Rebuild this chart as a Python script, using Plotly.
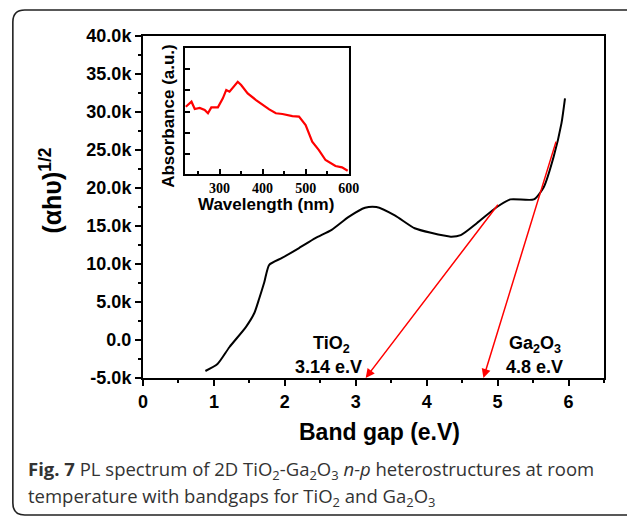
import plotly.graph_objects as go

# ---- main curve: band gap (eV) vs (alpha h nu)^1/2
band_gap = [0.88, 1.05, 1.22, 1.45, 1.57, 1.64, 1.71, 1.78, 1.96, 2.2, 2.43, 2.66, 2.9, 3.13, 3.29,
            3.55, 3.83, 4.06, 4.34, 4.48, 4.71, 4.99, 5.18, 5.51, 5.65, 5.79, 5.9, 5.95]
ahv = [-4080, -3160, -920, 1700, 3550, 5500, 7600, 9900, 10800, 12100, 13400, 14500, 16200, 17400, 17500,
       16400, 14700, 14100, 13600, 13800, 15400, 17500, 18500, 18500, 20100, 24100, 28500, 31800]

# ---- inset: absorbance spectrum
wavelength = [221.5, 234.7, 242.3, 253.8, 265.4, 273.0, 280.8, 296.1, 307.6, 315.5, 323.1, 334.6, 342.2,
              350.1, 365.3, 384.7, 399.9, 415.4, 430.8, 446.1, 469.2, 484.6, 500.0, 515.3, 530.8, 546.2,
              569.3, 584.5, 597.7]
absorbance = [0.534, 0.574, 0.516, 0.524, 0.508, 0.482, 0.529, 0.529, 0.600, 0.667, 0.653, 0.706, 0.732,
              0.706, 0.640, 0.587, 0.548, 0.513, 0.482, 0.476, 0.460, 0.455, 0.389, 0.256, 0.190, 0.111,
              0.063, 0.053, 0.026]

# ---- tangent lines (start point on curve -> intercept on x axis)
tangent_names = ["TiO2", "Ga2O3"]
tangent_start_x = [5.02, 5.83]
tangent_start_y = [18000, 26300]
tangent_intercept = [3.14, 4.8]
baseline_y = -5000

# ---- ticks
y_tickvals = [-5000, 0, 5000, 10000, 15000, 20000, 25000, 30000, 35000, 40000]
y_ticktext = ["-5.0k", "0.0", "5.0k", "10.0k", "15.0k", "20.0k", "25.0k", "30.0k", "35.0k", "40.0k"]
x_tickvals = [0, 1, 2, 3, 4, 5, 6]
inset_x_tickvals = [300, 400, 500, 600]

W, H = 627, 517
L, R, T, B = 143, 607, 36, 378


def px(X):
    return (X - L) / (R - L)


def py(Y):
    return (B - Y) / (B - T)


fig = go.Figure()
fig.add_trace(go.Scatter(x=band_gap, y=ahv, mode="lines",
                         line=dict(color="black", width=2, shape="spline", smoothing=0.6),
                         xaxis="x", yaxis="y", showlegend=False, hoverinfo="skip"))
fig.add_trace(go.Scatter(x=wavelength, y=absorbance, mode="lines",
                         line=dict(color="#ff0000", width=2.2),
                         xaxis="x2", yaxis="y2", showlegend=False, hoverinfo="skip"))

bold = "Liberation Sans"
annotations = []
for sx, sy, ix in zip(tangent_start_x, tangent_start_y, tangent_intercept):
    annotations.append(dict(x=ix, y=baseline_y, ax=sx, ay=sy, xref="x", yref="y", axref="x", ayref="y",
                            showarrow=True, arrowcolor="#ff0000", arrowwidth=1.5, arrowhead=2,
                            arrowsize=1.2, text=""))

labels = [("<b>TiO<sub>2</sub></b>", 2.66, -600), ("<b>3.14 e.V</b>", 2.62, -3500),
          ("<b>Ga<sub>2</sub>O<sub>3</sub></b>", 5.53, -600), ("<b>4.8 e.V</b>", 5.52, -3500)]
for t, x, y in labels:
    annotations.append(dict(x=x, y=y, xref="x", yref="y", text=t, showarrow=False,
                            xanchor="center", yanchor="middle",
                            font=dict(family=bold, size=18, color="black")))


def pann(X, Y, text, size, family=bold, angle=0, xanchor="center", color="black"):
    return dict(x=px(X), y=py(Y), xref="paper", yref="paper", text=text, showarrow=False,
                xanchor=xanchor, yanchor="middle", textangle=angle,
                font=dict(family=family, size=size, color=color))


annotations += [
    pann(381, 432, "<b>Band gap (e.V)</b>", 23),
    pann(50, 191, "<b>(αhυ)<sup>1/2</sup></b>", 25, angle=-90),
    pann(168, 116, "<b>Absorbance (a.u.)</b>", 17, angle=-90),
    pann(267, 204, "<b>Wavelength (nm)</b>", 17),
    pann(25, 470,
         "<b>Fig. 7</b> PL spectrum of 2D TiO<sub>2</sub>-Ga<sub>2</sub>O<sub>3</sub> <i>n-p</i> heterostructures at room",
         18.5, family="Open Sans", xanchor="left", color="#333333"),
    pann(25, 497, "temperature with bandgaps for TiO<sub>2</sub> and Ga<sub>2</sub>O<sub>3</sub>",
         18.5, family="Open Sans", xanchor="left", color="#333333"),
]

# rounded outer frame
fx0, fy0, fx1, fy1, r = 12, 10, 660, 515, 12
rx, ry = r / (R - L), r / (B - T)
path = (f"M {px(fx0)},{py(fy0) - ry} "
        f"Q {px(fx0)},{py(fy0)} {px(fx0) + rx},{py(fy0)} "
        f"L {px(fx1)},{py(fy0)} "
        f"M {px(fx1)},{py(fy1)} "
        f"L {px(fx0) + rx},{py(fy1)} "
        f"Q {px(fx0)},{py(fy1)} {px(fx0)},{py(fy1) + ry} "
        f"L {px(fx0)},{py(fy0) - ry}")

shapes = [
    dict(type="rect", xref="x2 domain", yref="y2 domain", x0=0, x1=1, y0=0, y1=1,
         fillcolor="#ececec", line=dict(width=0), layer="below"),
    dict(type="path", xref="paper", yref="paper", path=path, line=dict(color="#222222", width=1.6)),
]

tickfont = dict(family=bold, size=18, color="black", weight="bold")

fig.update_layout(
    width=W, height=H,
    margin=dict(l=L, r=W - R, t=T, b=H - B),
    paper_bgcolor="white", plot_bgcolor="white",
    showlegend=False,
    annotations=annotations, shapes=shapes,
    xaxis=dict(range=[0, 6.5], tickvals=x_tickvals, showline=True, linecolor="black", linewidth=2,
               mirror=True, ticks="outside", ticklen=6, tickwidth=2, tickcolor="black",
               minor=dict(dtick=0.5, tick0=0, ticks="outside", ticklen=3, tickwidth=2, tickcolor="black"),
               showgrid=False, zeroline=False, tickfont=tickfont, domain=[0, 1]),
    yaxis=dict(range=[-5000, 40000], tickvals=y_tickvals, ticktext=y_ticktext, showline=True,
               linecolor="black", linewidth=2, mirror=True, ticks="outside", ticklen=6, tickwidth=2,
               tickcolor="black",
               minor=dict(dtick=2500, tick0=0, ticks="outside", ticklen=3, tickwidth=2, tickcolor="black"),
               showgrid=False, zeroline=False, tickfont=tickfont, domain=[0, 1]),
    xaxis2=dict(domain=[px(185), px(350)], anchor="y2", range=[219, 600], tickvals=inset_x_tickvals,
                showline=True, linecolor="black", linewidth=2, mirror=True, ticks="inside", ticklen=5,
                tickwidth=2, tickcolor="black",
                minor=dict(dtick=50, tick0=0, ticks="inside", ticklen=3, tickwidth=2, tickcolor="black"),
                showgrid=False, zeroline=False,
                tickfont=dict(family="Liberation Serif", size=14, color="black", weight="bold")),
    yaxis2=dict(domain=[py(174), py(48)], anchor="x2", range=[0, 1], tick0=0.159, dtick=0.168,
                showticklabels=False, showline=True, linecolor="black", linewidth=2, mirror=True,
                ticks="inside", ticklen=5, tickwidth=2, tickcolor="black", showgrid=False, zeroline=False),
)

fig.write_html("out.html", config={"displayModeBar": False},
               post_script="document.body.style.margin='0';")
